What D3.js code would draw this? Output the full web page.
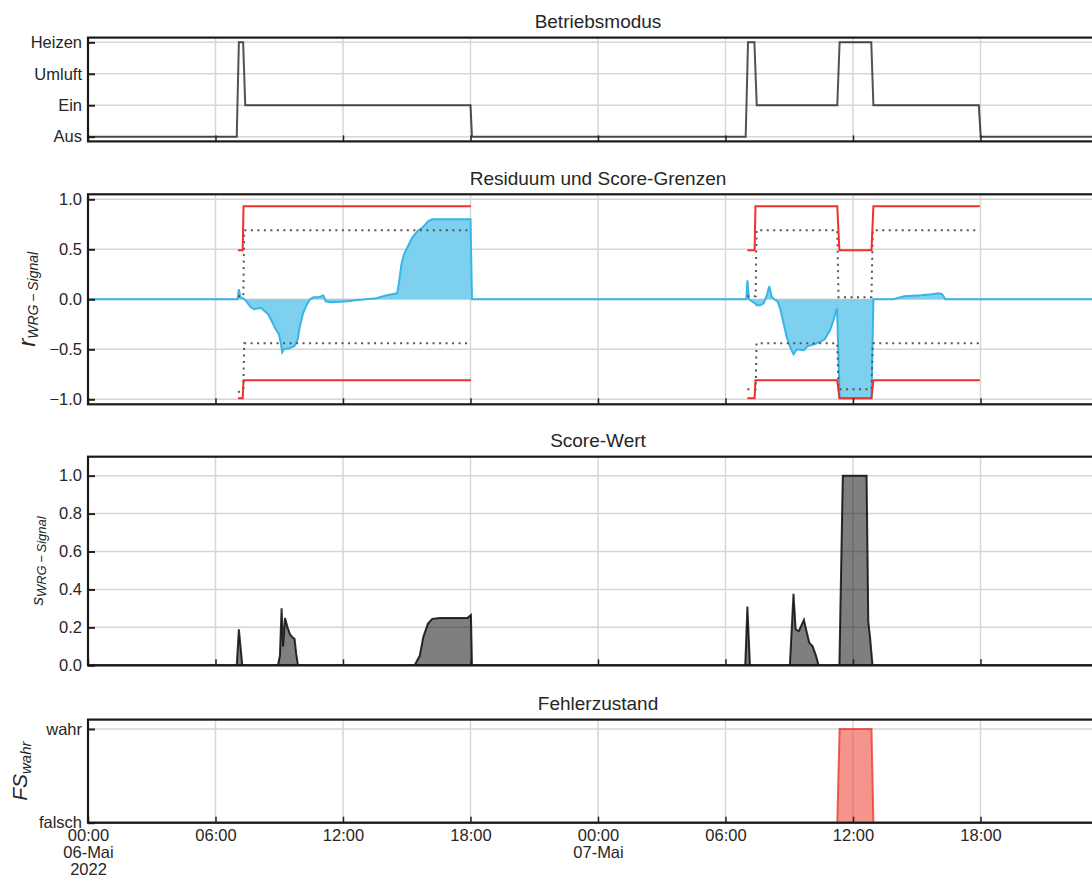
<!DOCTYPE html>
<html>
<head>
<meta charset="utf-8">
<script src="https://cdn.jsdelivr.net/npm/d3@7"></script>
<style>
  body { margin: 0; background: #fff; }
  svg { display: block; font-family: "Liberation Sans", Arial, sans-serif; }
</style>
</head>
<body>
<div id="chart"></div>
<script>
// --- Data (hours since 06-Mai-2022 00:00) ---
const modeNames = ["Aus", "Ein", "Umluft", "Heizen"];
const modeHours  = [0, 7.0, 7.1, 7.3, 7.4, 18.0, 18.07, 30.95, 31.06, 31.36, 31.47, 35.26, 35.37, 36.86, 36.96, 41.92, 42.01, 48];
const modeValues = [0, 0,   3,   3,   1,   1,    0,     0,     3,     3,     1,     1,     3,     3,     1,     1,     0,     0];

const resHours = [0, 7.04, 7.1, 7.17, 7.3, 7.45, 7.66, 7.83, 8.0, 8.16, 8.32, 8.48, 8.65, 8.81, 8.98, 9.06, 9.14, 9.22, 9.47, 9.71,
  9.87, 9.96, 10.12, 10.28, 10.45, 10.61, 10.86, 11.07, 11.19, 11.44, 12.25, 12.58, 13.07, 13.57, 13.9, 14.06, 14.55, 14.63, 14.75,
  14.87, 15.1, 15.27, 15.5, 15.75, 16.0, 16.2, 18.0, 18.07, 30.98, 31.03, 31.1, 31.39, 31.47, 31.63, 31.8, 31.96, 32.06, 32.17,
  32.29, 32.45, 32.57, 32.7, 32.87, 33.03, 33.2, 33.36, 33.69, 33.85, 34.18, 34.5, 34.67, 34.92, 35.08, 35.25, 35.37, 36.87,
  36.96, 37.9, 38.4, 39.2, 39.7, 40.05, 40.2, 40.35, 48];
const resValues = [0, 0, 0.1, 0.02, 0.01, -0.02, -0.08, -0.1, -0.09, -0.09, -0.12, -0.15, -0.22, -0.29, -0.35, -0.42, -0.53, -0.5, -0.49, -0.47,
  -0.4, -0.28, -0.14, -0.06, 0.0, 0.02, 0.02, 0.04, -0.02, -0.03, -0.02, -0.01, 0.0, 0.01, 0.03, 0.04, 0.06, 0.16, 0.35,
  0.45, 0.55, 0.62, 0.68, 0.72, 0.78, 0.8, 0.8, 0.0, 0.0, 0.19, 0.0, -0.04, -0.06, -0.06, -0.04, 0.05, 0.13, 0.03,
  0.0, -0.02, -0.09, -0.21, -0.37, -0.47, -0.55, -0.5, -0.51, -0.47, -0.45, -0.42, -0.4, -0.31, -0.21, -0.09, -0.99, -0.99,
  0.0, 0.0, 0.03, 0.04, 0.05, 0.06, 0.05, 0.0, 0];

// score limits (red) and thresholds (dotted); null breaks the line
const limitHours  = [7.06, 7.28, 7.32, 18.02, 18.03, 31.03, 31.37, 31.41, 35.26, 35.36, 36.87, 36.96, 41.97];
const upperLimit  = [0.49, 0.49, 0.93, 0.93, null, 0.49, 0.49, 0.93, 0.93, 0.49, 0.49, 0.93, 0.93];
const lowerLimit  = [-0.99, -0.99, -0.81, -0.81, null, -0.99, -0.99, -0.81, -0.81, -0.99, -0.99, -0.81, -0.81];
const threshHours = [7.06, 7.31, 7.35, 18.02, 18.03, 31.03, 31.42, 31.46, 35.26, 35.32, 36.87, 36.93, 41.97];
const upperThresh = [0.03, 0.03, 0.69, 0.69, null, 0.03, 0.03, 0.69, 0.69, 0.02, 0.02, 0.69, 0.69];
const lowerThresh = [-0.93, -0.9, -0.44, -0.44, null, -0.9, -0.9, -0.44, -0.44, -0.9, -0.9, -0.44, -0.44];

const scoreHours  = [0, 7.0, 7.1, 7.26, 8.94, 9.03, 9.11, 9.18, 9.27, 9.39, 9.5, 9.6, 9.72, 9.8, 9.88, 15.37, 15.61, 15.78, 16.0,
  16.2, 16.55, 17.86, 18.02, 18.07, 30.93, 31.03, 31.15, 33.03, 33.2, 33.3, 33.45, 33.69, 33.77, 33.94, 34.1, 34.26, 34.38,
  35.36, 35.52, 36.64, 36.72, 36.8, 36.92, 48];
const scoreValues = [0, 0, 0.19, 0, 0, 0.05, 0.3, 0.1, 0.25, 0.2, 0.165, 0.15, 0.14, 0.06, 0, 0, 0.05, 0.15, 0.22,
  0.245, 0.25, 0.25, 0.265, 0, 0, 0.31, 0, 0, 0.377, 0.19, 0.18, 0.24, 0.2, 0.12, 0.1, 0.05, 0,
  0, 1.0, 1.0, 0.23, 0.15, 0, 0];

const faultHours  = [0, 35.26, 35.37, 36.87, 36.96, 48];
const faultValues = [0, 0, 1, 1, 0, 0];

// --- Layout ---
const W = 1092, H = 878;
const x0 = 88, x1 = 1108; // plot runs past the right edge, like the reference crop
const t0 = new Date(2022, 4, 6);
const hr = h => new Date(t0.getTime() + h * 3600e3);
const zip = (hs, vs) => hs.map((h, i) => ({ t: hr(h), v: vs[i] }));

const x = d3.scaleTime().domain([hr(0), hr(48)]).range([x0, x1]);
const gridTimes = d3.range(0, 48, 6).map(hr);

const svg = d3.select("#chart").append("svg").attr("width", W).attr("height", H);

const ink = "#262626";
const tickFont = 16.5;

function panel(top, bottom, domain, title, yTicks, yFmt) {
  const y = d3.scaleLinear().domain(domain).range([bottom, top]);
  const g = svg.append("g");

  // grid
  g.append("g").selectAll("line.gx").data(gridTimes).enter().append("line")
    .attr("x1", d => x(d)).attr("x2", d => x(d)).attr("y1", top).attr("y2", bottom)
    .attr("stroke", "#d6d6d6").attr("stroke-width", 1.5);
  g.append("g").selectAll("line.gy").data(yTicks).enter().append("line")
    .attr("x1", x0).attr("x2", x1).attr("y1", d => y(d)).attr("y2", d => y(d))
    .attr("stroke", "#d6d6d6").attr("stroke-width", 1.5);

  const marks = g.append("g");

  // axes
  const ya = g.append("g").attr("transform", `translate(${x0},0)`)
    .call(d3.axisLeft(y).tickValues(yTicks).tickFormat(yFmt).tickSize(-7).tickPadding(6));
  ya.select(".domain").remove();
  ya.attr("font-size", tickFont).attr("font-family", null);
  ya.selectAll("line").attr("stroke", "#222").attr("stroke-width", 2);
  ya.selectAll("text").attr("fill", ink);

  const xa = g.append("g").attr("transform", `translate(0,${bottom})`)
    .call(d3.axisBottom(x).tickValues(gridTimes).tickSize(-6).tickFormat(""));
  xa.select(".domain").remove();
  xa.selectAll("line").attr("stroke", "#222").attr("stroke-width", 1.5);

  // spines
  g.append("rect").attr("x", x0).attr("y", top).attr("width", x1 - x0).attr("height", bottom - top)
    .attr("fill", "none").attr("stroke", "#1a1a1a").attr("stroke-width", 2.2);

  svg.append("text").attr("x", (x0 + x1) / 2).attr("y", top - 9.5)
    .attr("text-anchor", "middle").attr("font-size", 19).attr("fill", ink).text(title);

  return { g, marks, xa, y, top, bottom };
}

function yLabel(p, xPos, main, sub, mainSize, subSize, shift) {
  const t = svg.append("text")
    .attr("transform", `translate(${xPos},${(p.top + p.bottom) / 2}) rotate(-90)`)
    .attr("text-anchor", "middle").attr("fill", ink).style("font-style", "italic");
  t.append("tspan").attr("font-size", mainSize).text(main);
  t.append("tspan").attr("font-size", subSize).attr("dy", shift).text(sub);
}

// --- Panel 1: Betriebsmodus ---
const p1 = panel(37.6, 141.4, [-0.15, 3.15], "Betriebsmodus", [0, 1, 2, 3], d => modeNames[d]);
p1.marks.append("path").datum(zip(modeHours, modeValues))
  .attr("fill", "none").attr("stroke", "#000").attr("stroke-opacity", 0.68).attr("stroke-width", 2)
  .attr("d", d3.line().x(d => x(d.t)).y(d => p1.y(d.v)));

// --- Panel 2: Residuum und Score-Grenzen ---
const p2 = panel(194.3, 404.3, [-1.05, 1.05], "Residuum und Score-Grenzen", [-1, -0.5, 0, 0.5, 1], d3.format(".1f"));
const res = zip(resHours, resValues);
p2.marks.append("path").datum(res)
  .attr("fill", "#7dd0ee").attr("stroke", "none")
  .attr("d", d3.area().x(d => x(d.t)).y0(p2.y(0)).y1(d => p2.y(d.v)));
p2.marks.append("path").datum(res)
  .attr("fill", "none").attr("stroke", "#38b5e7").attr("stroke-width", 2)
  .attr("d", d3.line().x(d => x(d.t)).y(d => p2.y(d.v)));

const defLine = y => d3.line().defined(d => d.v != null).x(d => x(d.t)).y(d => y(d.v));
[upperThresh, lowerThresh].forEach(vals => {
  p2.marks.append("path").datum(zip(threshHours, vals))
    .attr("fill", "none").attr("stroke", "#555").attr("stroke-width", 2).attr("stroke-dasharray", "2,4.5")
    .attr("d", defLine(p2.y));
});
[upperLimit, lowerLimit].forEach(vals => {
  p2.marks.append("path").datum(zip(limitHours, vals))
    .attr("fill", "none").attr("stroke", "#f0302a").attr("stroke-width", 2)
    .attr("d", defLine(p2.y));
});
yLabel(p2, 35, "r", "WRG\u2009\u2212\u2009Signal", 24, 14, 3);

// --- Panel 3: Score-Wert ---
const p3 = panel(456.7, 665.3, [0, 1.1], "Score-Wert", [0, 0.2, 0.4, 0.6, 0.8, 1.0], d3.format(".1f"));
p3.marks.append("path").datum(zip(scoreHours, scoreValues))
  .attr("fill", "#000").attr("fill-opacity", 0.5)
  .attr("stroke", "#000").attr("stroke-opacity", 0.8).attr("stroke-width", 2)
  .attr("d", d3.area().x(d => x(d.t)).y0(p3.y(0)).y1(d => p3.y(d.v)));
yLabel(p3, 43, "s", "WRG\u2009\u2212\u2009Signal", 17, 13, 3);

// --- Panel 4: Fehlerzustand ---
const p4 = panel(719.6, 822.7, [0, 1.1], "Fehlerzustand", [0, 1], d => (d ? "wahr" : "falsch"));
p4.marks.append("path").datum(zip(faultHours, faultValues))
  .attr("fill", "#ec3b2f").attr("fill-opacity", 0.55)
  .attr("stroke", "#ec3b2f").attr("stroke-opacity", 0.8).attr("stroke-width", 2)
  .attr("d", d3.area().x(d => x(d.t)).y0(p4.y(0)).y1(d => p4.y(d.v)));
yLabel(p4, 27, "FS", "wahr", 21, 15, 4);

// x tick labels (concise date style) on the bottom panel only
const fmtHM = d3.timeFormat("%H:%M");
const months = ["Jan", "Feb", "Mär", "Apr", "Mai", "Jun", "Jul", "Aug", "Sep", "Okt", "Nov", "Dez"];
const labelLines = (d, i) => {
  const lines = [fmtHM(d)];
  if (d.getHours() === 0) lines.push(d3.timeFormat("%d")(d) + "-" + months[d.getMonth()]);
  if (i === 0) lines.push(String(d.getFullYear()));
  return lines;
};
p4.xa.selectAll(".tick").each(function (d, i) {
  const txt = d3.select(this).select("text")
    .attr("y", 0).attr("dy", null).attr("font-size", tickFont).attr("fill", ink).text("");
  labelLines(d, i).forEach((s, k) => {
    txt.append("tspan").attr("x", 0).attr("y", 18.5 + k * 16.8).text(s);
  });
});
p4.xa.attr("font-family", null);
</script>
</body>
</html>
